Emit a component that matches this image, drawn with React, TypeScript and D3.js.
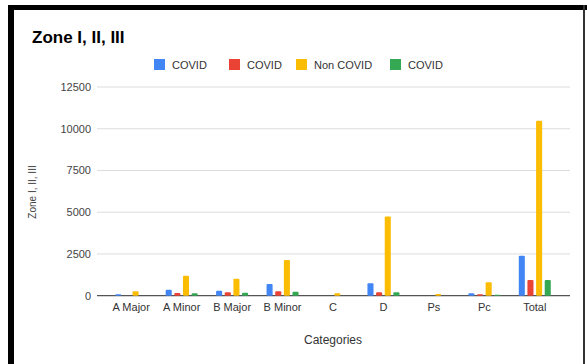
import * as d3 from 'd3'

const categories = ['A Major', 'A Minor', 'B Major', 'B Minor', 'C', 'D', 'Ps', 'Pc', 'Total']
const seriesNames = ['COVID', 'COVID', 'Non COVID', 'COVID']
const seriesColors = ['#4285f4', '#ea4335', '#fbbc04', '#34a853']
const covidA = [80, 360, 300, 700, 0, 740, 0, 140, 2400]
const covidB = [0, 160, 200, 260, 0, 200, 0, 80, 940]
const nonCovid = [270, 1200, 1020, 2140, 140, 4740, 100, 800, 10480]
const covidC = [0, 140, 180, 240, 0, 200, 0, 60, 940]
const yTicks = [0, 2500, 5000, 7500, 10000, 12500]

const series = [covidA, covidB, nonCovid, covidC]
const font = '"Liberation Sans", Arial, sans-serif'

export default function App() {
  const W = 587
  const H = 364

  const x = d3.scaleBand<string>().domain(categories).range([106, 560])
  const inner = d3
    .scaleBand<number>()
    .domain(d3.range(series.length))
    .range([-16, 16])
    .paddingInner(0.3)
  const y = d3.scaleLinear().domain([0, 12500]).range([295.7, 87])

  const legendX = [154, 229, 296, 390]

  return (
    <svg
      width={W}
      height={H}
      style={{ position: 'absolute', left: 0, top: 0, fontFamily: font }}
    >
      <rect x={0} y={0} width={W} height={H} fill="#fff" />
      {/* frame */}
      <rect x={8} y={5} width={579} height={5} fill="#000" />
      <rect x={8} y={5} width={6} height={H - 5} fill="#000" />
      <rect x={583} y={5} width={2} height={H - 5} fill="#333" />

      <text x={32} y={43} fontSize={17} fontWeight="bold" fill="#000">
        Zone I, II, III
      </text>

      {seriesNames.map((name, i) => (
        <g key={i} transform={`translate(${legendX[i]},59)`}>
          <rect width={11} height={11} fill={seriesColors[i]} />
          <text x={18} y={10} fontSize={11} fill="#333">
            {name}
          </text>
        </g>
      ))}

      {yTicks.map((t) => (
        <g key={t}>
          <line
            x1={97}
            x2={570}
            y1={y(t)}
            y2={y(t)}
            stroke={t === 0 ? '#555' : '#ddd'}
            strokeWidth={t === 0 ? 1.2 : 1}
          />
          <text x={91} y={y(t) + 4} fontSize={11} textAnchor="end" fill="#444">
            {t}
          </text>
        </g>
      ))}

      {series.map((vals, si) =>
        vals.map((v, ci) => {
          if (v <= 0) return null
          const cx = (x(categories[ci]) ?? 0) + x.bandwidth() / 2
          const bx = cx + (inner(si) ?? 0)
          const top = y(v)
          return (
            <rect
              key={`${si}-${ci}`}
              x={bx}
              y={top}
              width={inner.bandwidth()}
              height={y(0) - top}
              rx={1}
              fill={seriesColors[si]}
            />
          )
        })
      )}

      {categories.map((c) => (
        <text
          key={c}
          x={(x(c) ?? 0) + x.bandwidth() / 2}
          y={311}
          fontSize={11}
          textAnchor="middle"
          fill="#333"
        >
          {c}
        </text>
      ))}

      <text x={333} y={344} fontSize={12} textAnchor="middle" fill="#333">
        Categories
      </text>
      <text
        transform="translate(36,192) rotate(-90)"
        fontSize={10}
        textAnchor="middle"
        fill="#444"
      >
        Zone I, II, III
      </text>
    </svg>
  )
}
